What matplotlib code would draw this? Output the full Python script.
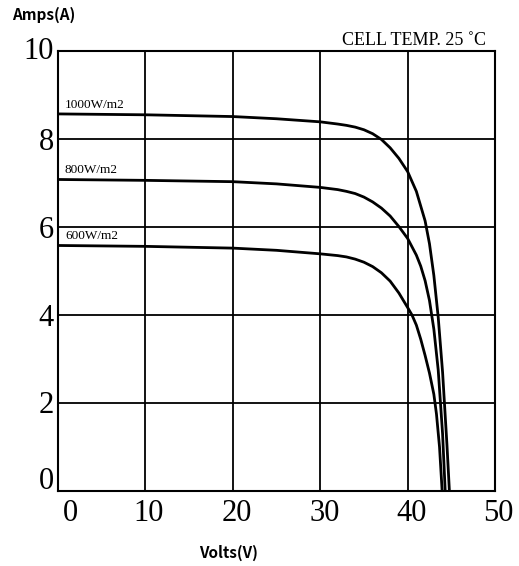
import matplotlib
matplotlib.use("Agg")
import matplotlib.pyplot as plt
from matplotlib.transforms import ScaledTranslation

# Data (volts, amps)
volts_1000 = [0, 10, 20, 25, 30, 32, 33, 34, 35, 36, 37, 38, 39, 40, 41, 42,
              42.5, 43, 43.5, 44, 44.5, 44.78]
amps_1000 = [8.57, 8.55, 8.51, 8.46, 8.39, 8.34, 8.31, 8.27, 8.21, 8.12, 7.99, 7.80,
             7.56, 7.26, 6.81, 6.14, 5.62, 4.90, 3.95, 2.70, 1.05, 0]

volts_800 = [0, 10, 20, 25, 30, 32, 33, 34, 35, 36, 37, 38, 39, 40, 41, 41.5, 42,
             42.5, 43, 43.5, 44, 44.3]
amps_800 = [7.08, 7.06, 7.03, 6.98, 6.90, 6.85, 6.81, 6.76, 6.68, 6.57, 6.43, 6.25,
            6.01, 5.74, 5.36, 5.11, 4.78, 4.33, 3.68, 2.75, 1.30, 0]

volts_600 = [0, 10, 20, 25, 30, 32, 33, 34, 35, 36, 37, 38, 39, 40, 40.5, 41, 41.5,
             42, 42.5, 43, 43.3, 43.65, 43.95]
amps_600 = [5.58, 5.56, 5.52, 5.47, 5.39, 5.35, 5.32, 5.27, 5.20, 5.10, 4.96, 4.77,
            4.50, 4.17, 4.00, 3.77, 3.45, 3.08, 2.68, 2.20, 1.75, 1.00, 0]

curve_labels = ["1000W/m2", "800W/m2", "600W/m2"]
x_ticks = [0, 10, 20, 30, 40, 50]
y_ticks = [0, 2, 4, 6, 8, 10]

serif = "Liberation Serif"
gothic = ["Noto Sans CJK JP", "DejaVu Sans"]

fig = plt.figure(figsize=(5.19, 5.66), dpi=100)
ax = fig.add_axes([0.1118, 0.1325, 0.842, 0.7774])

for v, a in [(volts_1000, amps_1000), (volts_800, amps_800), (volts_600, amps_600)]:
    ax.plot(v, a, color="black", lw=2.0, solid_joinstyle="round", zorder=3)

ax.set_xlim(0, 50)
ax.set_ylim(0, 10)
ax.set_xticks(x_ticks)
ax.set_yticks(y_ticks)
ax.set_xticklabels([str(t) for t in x_ticks], fontfamily=serif, fontsize=22)
ax.set_yticklabels([str(t) for t in y_ticks], fontfamily=serif, fontsize=22)
ax.tick_params(axis="x", length=0, pad=6)
ax.tick_params(axis="y", length=0, pad=3)
ax.grid(True, color="black", lw=1.3)
for s in ax.spines.values():
    s.set_linewidth(1.5)

# nudge tick labels like the original scan
x_shift = [12, 3, 4, 4, 4, 3]
for lab, dx in zip(ax.get_xticklabels(), x_shift):
    lab.set_transform(lab.get_transform() + ScaledTranslation(dx / 100, 0, fig.dpi_scale_trans))
y_shift = [13, 1, 0, 0, 0, 3]
for lab, dy in zip(ax.get_yticklabels(), y_shift):
    lab.set_transform(lab.get_transform() + ScaledTranslation(0, dy / 100, fig.dpi_scale_trans))

# irradiance labels sit just above each curve start
for lab, a in zip(curve_labels, [amps_1000[0], amps_800[0], amps_600[0]]):
    ax.annotate(lab, (0, a), xytext=(5, 4.5), textcoords="offset points",
                fontfamily=serif, fontsize=9.5, va="baseline")

ax.text(0.979, 1.0136, "CELL TEMP. 25 ˚C", transform=ax.transAxes, ha="right",
        va="baseline", fontfamily=serif, fontsize=13)

fig.text(12 / 519, 1 - 15 / 566, "Amps(A)", fontfamily=gothic, fontsize=11,
         fontweight="bold", va="center", ha="left")
fig.text(229 / 519, 1 - 553 / 566, "Volts(V)", fontfamily=gothic, fontsize=11,
         fontweight="bold", va="center", ha="center")

fig.savefig("out.png", dpi=100)
